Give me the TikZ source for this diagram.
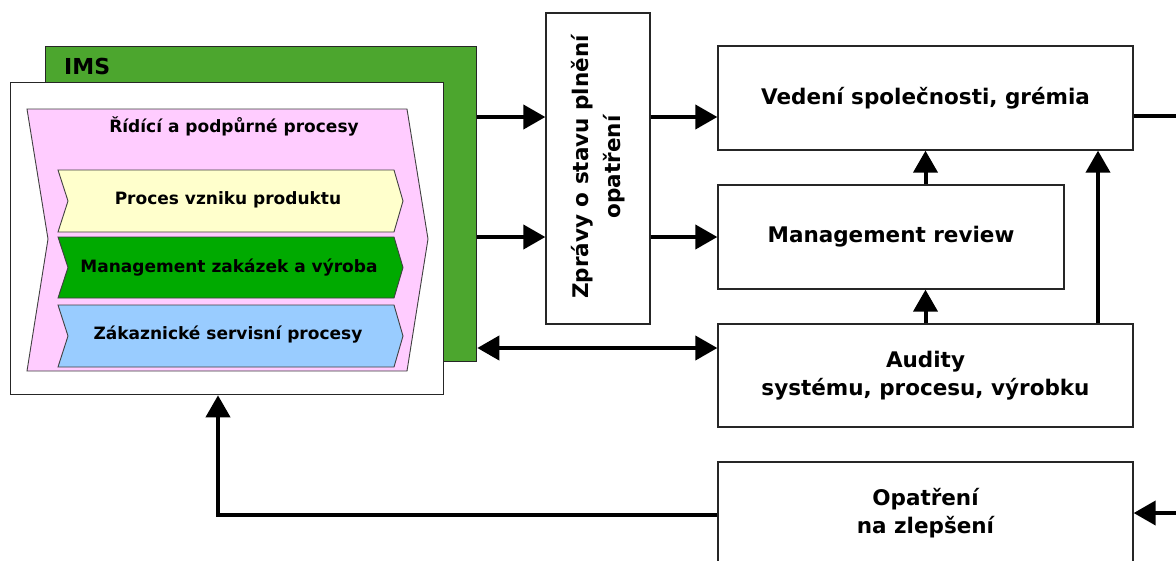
\documentclass[tikz,border=0pt]{standalone}
\usepackage{fontspec}
\setmainfont{DejaVu Sans}
\usetikzlibrary{arrows.meta}
\definecolor{imsgreen}{RGB}{76,166,46}
\definecolor{chpink}{RGB}{255,204,255}
\definecolor{chyellow}{RGB}{255,255,204}
\definecolor{chgreen}{RGB}{0,170,0}
\definecolor{chblue}{RGB}{153,204,255}
\begin{document}
\begin{tikzpicture}[x=1pt,y=-1pt,
  frame/.style={draw=black!85, line width=1.3pt, inner sep=0pt},
  box/.style={frame, fill=white, align=center,
    font=\fontsize{21.5}{28}\selectfont\bfseries},
  chev/.style={draw=black!75, line width=0.9pt},
  chevtext/.style={font=\fontsize{17}{20}\selectfont\bfseries, inner sep=0pt},
  link/.style={line width=4pt, -{Triangle[length=22pt,width=24pt]}},
  biglink/.style={line width=4pt, {Triangle[length=22pt,width=24pt]}-{Triangle[length=22pt,width=24pt]}},
  plain/.style={line width=4pt}]
\clip (0,0) rectangle (1176,560);
\useasboundingbox (0,0) rectangle (1176,560);

% IMS frame and the process panel in front of it
\node[frame, fill=imsgreen, minimum width=431pt, minimum height=315pt,
  anchor=north west] (ims) at (45,46) {};
\node[anchor=west, inner sep=0pt, font=\fontsize{22}{24}\selectfont\bfseries]
  (imslabel) at (64,66) {IMS};
\node[frame, fill=white, minimum width=433pt, minimum height=312pt,
  anchor=north west] (proc) at (10,82) {};

% process chevrons
\draw[chev, fill=chpink] (27,109) -- (407,109) -- (428,239) -- (407,371)
  -- (27,371) -- (48,239) -- cycle;
\node[chevtext] (ctrl) at (234,126) {Řídící a podpůrné procesy};
\draw[chev, fill=chyellow] (58,170) -- (394,170) -- (403,201) -- (394,232)
  -- (58,232) -- (68,201) -- cycle;
\node[chevtext] (prod) at (228,200) {Proces vzniku produktu};
\draw[chev, fill=chgreen] (58,237) -- (394,237) -- (403,267.5) -- (394,298)
  -- (58,298) -- (68,267.5) -- cycle;
\node[chevtext] (orders) at (229,268) {Management zakázek a výroba};
\draw[chev, fill=chblue] (58,305) -- (394,305) -- (403,336) -- (394,367)
  -- (58,367) -- (68,336) -- cycle;
\node[chevtext] (service) at (228,335) {Zákaznické servisní procesy};

% reports column
\node[box, minimum width=104pt, minimum height=311pt] (zpravy) at (598,168.5) {};
\node[rotate=90, align=center, inner sep=0pt,
  font=\fontsize{21.5}{32}\selectfont\bfseries] (zpravytext) at (598,167)
  {Zprávy o stavu plnění\\opatření};

% management boxes
\node[box, minimum width=415pt, minimum height=104pt] (ved) at (925.5,98)
  {Vedení společnosti, grémia};
\node[box, minimum width=346pt, minimum height=104pt] (mr) at (891,237)
  {Management review};
\node[box, minimum width=415pt, minimum height=103pt] (aud) at (925.5,375.5)
  {Audity\\systému, procesu, výrobku};
\node[box, minimum width=415pt, minimum height=102pt] (opat) at (925.5,513)
  {Opatření\\na zlepšení};

% connectors
\coordinate (row1) at (0,117);
\coordinate (row3) at (0,348);
\coordinate (fb) at (218,515);
\coordinate (outtop) at (1180,116);
\coordinate (inbot) at (1180,513);
\coordinate (side) at (1098,0);

\draw[link] (ims.east |- row1) -- (zpravy.west |- row1);
\draw[link] (ims.east |- mr.west) -- (zpravy.west |- mr.west);
\draw[link] (zpravy.east |- row1) -- (ved.west |- row1);
\draw[link] (zpravy.east |- mr.west) -- (mr.west);
\draw[biglink] (ims.east |- row3) -- (aud.west |- row3);
\draw[link] (mr.north -| ved.south) -- (ved.south);
\draw[link] (aud.north -| ved.south) -- (mr.south -| ved.south);
\draw[link] (aud.north -| side) -- (ved.south -| side);
\draw[plain] (ved.east |- outtop) -- (outtop);
\draw[link] (inbot) -- (opat.east |- inbot);
\draw[link] (opat.west |- fb) -- (fb) -- (fb |- proc.south);
\end{tikzpicture}
\end{document}
